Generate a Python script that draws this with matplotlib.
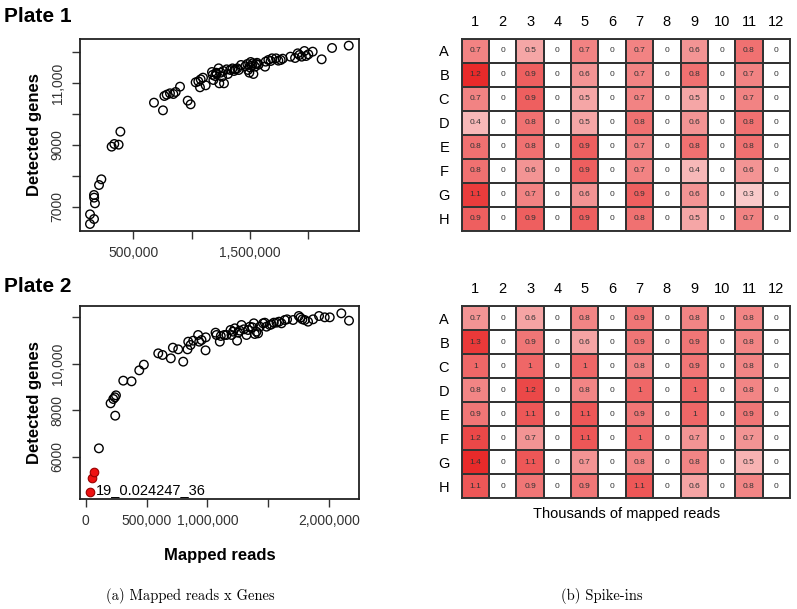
import numpy as np
import matplotlib
matplotlib.use("Agg")
import matplotlib.pyplot as plt
from matplotlib.colors import LinearSegmentedColormap

# ---------------- data ----------------
# Plate 1 scatter: mapped reads vs detected genes
p1_reads = [128600, 129000, 163000, 163000, 164000, 171000, 206000, 226000,
            314000, 337000, 374000, 389000,
            677000, 754000, 766000, 786000, 814000, 843000, 863000, 900000, 966000, 991000,
            1034000, 1057000, 1071000, 1077000, 1097000, 1120000, 1174000, 1186000, 1200000,
            1214000, 1231000, 1237000, 1249000, 1271000, 1277000, 1300000, 1311000, 1363000,
            1374000, 1391000, 1403000, 1423000, 1477000, 1483000, 1494000, 1506000, 1523000,
            1529000, 1543000, 1551000, 1574000, 1629000, 1634000, 1657000, 1677000, 1689000,
            1723000, 1743000, 1763000, 1780000, 1846000, 1886000, 1909000, 1923000, 1943000,
            1966000, 1980000, 2000000, 2037000, 2114000, 2203000, 2346000,
            1180000, 1210000, 1260000, 1330000, 1350000, 1460000, 1500000, 1515000, 1560000]
p1_genes = [6440, 6752, 6600, 7377, 7291, 7108, 7700, 7884,
            8940, 9026, 9004, 9425,
            10362, 10114, 10578, 10620, 10664, 10642, 10707, 10879, 10427, 10308,
            11019, 11052, 10858, 11116, 11170, 10922, 11353, 11095, 11224,
            11289, 11472, 10987, 11332, 11386, 10987, 11440, 11289, 11386,
            11440, 11472, 11418, 11580, 11612, 11418, 11332, 11677, 11634,
            11289, 11526, 11612, 11591, 11526, 11688, 11741, 11709, 11795,
            11795, 11720, 11741, 11784, 11849, 11806, 11957, 11903, 11849,
            12032, 11870, 11925, 12011, 11763, 12130, 12205,
            11260, 11330, 11200, 11420, 11470, 11540, 11500, 11560, 11650]

# Plate 2 scatter
p2_reads = [109000, 205000, 227000, 240000, 249000, 243000, 309000, 377000, 440000, 478000,
            596000, 631000, 699000, 716000, 760000, 801000, 836000, 842000, 861000, 883000,
            923000, 932000, 951000, 984000, 986000, 1066000, 1074000, 1101000, 1109000, 1137000,
            1156000, 1189000, 1197000, 1210000, 1224000, 1243000, 1251000, 1265000, 1279000,
            1298000, 1320000, 1333000, 1347000, 1369000, 1380000, 1388000, 1402000, 1415000,
            1429000, 1456000, 1470000, 1484000, 1511000, 1525000, 1544000, 1566000, 1587000,
            1607000, 1634000, 1653000, 1702000, 1749000, 1762000, 1779000, 1798000, 1825000,
            1866000, 1915000, 1962000, 2003000, 2098000, 2161000]
p2_genes = [6358, 8294, 8480, 8552, 8638, 7763, 9269, 9240, 9713, 9957,
            10444, 10373, 10229, 10688, 10616, 10086, 10616, 10946, 10803, 10989,
            11233, 10946, 11018, 10573, 11133, 11333, 11233, 10946, 11190, 11233,
            11233, 11448, 11233, 11376, 11520, 10989, 11333, 11419, 11663,
            11477, 11233, 11448, 11591, 11563, 11735, 11276, 11376, 11305,
            11591, 11735, 11763, 11591, 11663, 11692, 11763, 11763, 11806,
            11735, 11878, 11907, 11878, 12050, 11978, 11907, 11878, 11806,
            11907, 12050, 11993, 11993, 12165, 11849]
p2_out_reads = [35500, 49000, 71000]
p2_out_genes = [4495, 5068, 5355]
p2_out_label = "19_0.024247_36"

# Axis ticks / labels
p1_xticks = [500000, 1000000, 1500000, 2000000]
p1_xlabels = ["500,000", "", "1,500,000", ""]
p1_yticks = [7000, 8000, 9000, 10000, 11000, 12000]
p1_ylabels = ["7000", "", "9000", "", "11,000", ""]
p2_xticks = [0, 500000, 1000000, 1500000, 2000000]
p2_xlabels = ["0", "500,000", "1,000,000", "", "2,000,000"]
p2_yticks = [6000, 8000, 10000, 12000]
p2_ylabels = ["6000", "8000", "10,000", ""]

# Heatmaps: spike-in reads (thousands) per well
rows = ["A", "B", "C", "D", "E", "F", "G", "H"]
cols = [str(i) for i in range(1, 13)]
p1_odd = [  # columns 1,3,5,7,9,11
    [0.7, 0.5, 0.7, 0.7, 0.6, 0.8],
    [1.2, 0.9, 0.6, 0.7, 0.8, 0.7],
    [0.7, 0.9, 0.5, 0.7, 0.5, 0.7],
    [0.4, 0.8, 0.5, 0.8, 0.6, 0.8],
    [0.8, 0.8, 0.9, 0.7, 0.8, 0.8],
    [0.8, 0.6, 0.9, 0.7, 0.4, 0.6],
    [1.1, 0.7, 0.6, 0.9, 0.6, 0.3],
    [0.9, 0.9, 0.9, 0.8, 0.5, 0.7],
]
p2_odd = [
    [0.7, 0.6, 0.8, 0.9, 0.8, 0.8],
    [1.3, 0.9, 0.6, 0.9, 0.9, 0.8],
    [1.0, 1.0, 1.0, 0.8, 0.9, 0.8],
    [0.8, 1.2, 0.8, 1.0, 1.0, 0.8],
    [0.9, 1.1, 1.1, 0.9, 1.0, 0.9],
    [1.2, 0.7, 1.1, 1.0, 0.7, 0.7],
    [1.4, 1.1, 0.7, 0.8, 0.8, 0.5],
    [1.1, 0.9, 0.9, 1.1, 0.6, 0.8],
]


def full_plate(odd):
    m = np.zeros((8, 12))
    m[:, 0::2] = np.array(odd)
    return m


W, H = 797, 609
fig = plt.figure(figsize=(W / 100, H / 100), dpi=100)
sans = ["Liberation Sans", "DejaVu Sans"]
plt.rcParams["font.family"] = sans


def fx(px):
    return px / W


def fy(py):
    return 1 - py / H


def scatter_axes(top, bottom):
    ax = fig.add_axes([fx(80), fy(bottom), fx(359) - fx(80), fy(top) - fy(bottom)])
    for s in ax.spines.values():
        s.set_linewidth(1.3)
        s.set_color("#222222")
    ax.tick_params(direction="out", length=6, width=1.0, color="#333333",
                   labelsize=10, labelcolor="#333333", pad=5)
    return ax


# ---- Plate 1 scatter ----
ax1 = scatter_axes(39, 231)
ax1.scatter(p1_reads, p1_genes, s=38, facecolors="none", edgecolors="black", linewidths=1.0)
ax1.set_xlim(43000, 2434000)
ax1.set_ylim(6213, 12420)
ax1.set_xticks(p1_xticks)
ax1.set_xticklabels(p1_xlabels)
ax1.set_yticks(p1_yticks)
ax1.set_yticklabels(p1_ylabels, rotation=90, va="center")
ax1.set_ylabel("Detected genes", fontsize=12, fontweight="bold", labelpad=6)

# ---- Plate 2 scatter ----
ax2 = scatter_axes(306, 499)
ax2.scatter(p2_reads, p2_genes, s=38, facecolors="none", edgecolors="black", linewidths=1.0)
ax2.scatter(p2_out_reads, p2_out_genes, s=38, facecolors="#ee1111", edgecolors="#990000",
            linewidths=0.8, zorder=3)
ax2.annotate(p2_out_label, (p2_out_reads[0], p2_out_genes[0]), xytext=(4, 1.5),
             textcoords="offset points", ha="left", va="center", fontsize=10.5,
             zorder=10, annotation_clip=False)
ax2.set_xlim(-46000, 2243000)
ax2.set_ylim(4179, 12480)
ax2.set_xticks(p2_xticks)
ax2.set_xticklabels(p2_xlabels)
ax2.set_yticks(p2_yticks)
ax2.set_yticklabels(p2_ylabels, rotation=90, va="center")
ax2.set_ylabel("Detected genes", fontsize=12, fontweight="bold", labelpad=6)
ax2.set_xlabel("Mapped reads", fontsize=12, fontweight="bold", labelpad=14)

fig.text(fx(4), fy(17), "Plate 1", fontsize=15, fontweight="bold", va="center", ha="left")
fig.text(fx(4), fy(287), "Plate 2", fontsize=15, fontweight="bold", va="center", ha="left")

# ---- Heatmaps ----
cmap = LinearSegmentedColormap.from_list("wr", ["#ffffff", "#e82a2a"])


def heat_axes(top, bottom, odd):
    ax = fig.add_axes([fx(461.7), fy(bottom), fx(790) - fx(461.7), fy(top) - fy(bottom)])
    data = full_plate(odd)
    ax.pcolormesh(np.arange(13), np.arange(9), data, cmap=cmap, vmin=0, vmax=data.max(),
                  edgecolors="#333333", linewidth=1.4)
    ax.set_xlim(0, 12)
    ax.set_ylim(8, 0)
    for i in range(8):
        for j in range(12):
            v = data[i, j]
            txt = "0" if v == 0 else ("%g" % v)
            ax.text(j + 0.5, i + 0.5, txt, ha="center", va="center", fontsize=6,
                    color="#333333")
    ax.xaxis.tick_top()
    ax.set_xticks(np.arange(12) + 0.5)
    ax.set_xticklabels(cols)
    ax.set_yticks(np.arange(8) + 0.5)
    ax.set_yticklabels(rows)
    ax.tick_params(length=0, labelsize=10.5, pad=7)
    ax.tick_params(axis="y", pad=9)
    for s in ax.spines.values():
        s.set_linewidth(1.4)
        s.set_color("#333333")
    return ax


heat_axes(39, 230.7, p1_odd)
hb = heat_axes(306, 498.3, p2_odd)
fig.text(fx(626.7), fy(514), "Thousands of mapped reads", fontsize=10.5, ha="center", va="center")

# ---- captions ----
fig.text(fx(190), fy(596), "(a) Mapped reads x Genes", fontsize=10.5, family="cmr10",
         ha="center", va="center")
fig.text(fx(601.7), fy(596), "(b) Spike-ins", fontsize=10.5, family="cmr10",
         ha="center", va="center")

fig.savefig("out.png", dpi=100)
